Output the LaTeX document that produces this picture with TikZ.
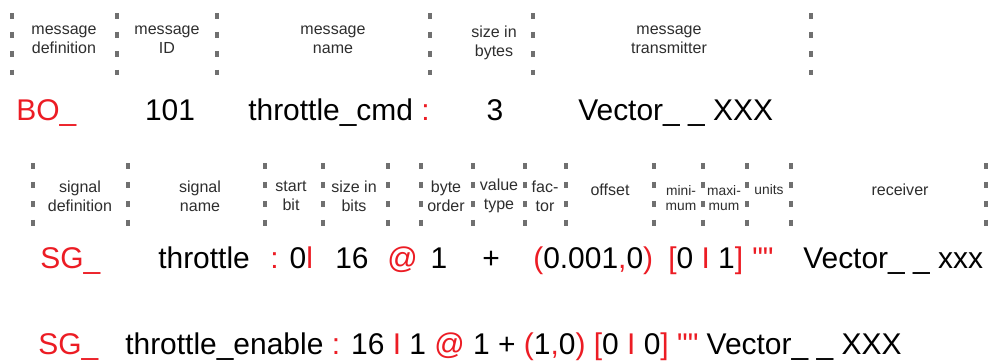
\documentclass[tikz,border=0pt]{standalone}
\usepackage{fontspec}
\setmainfont{Liberation Sans}
\usetikzlibrary{positioning}
\definecolor{cred}{HTML}{EC1C24}
\definecolor{cgrey}{HTML}{707070}
\definecolor{ctext}{HTML}{2E2E2E}
\tikzset{
  head/.style={font=\fontsize{11.4}{13.5}\selectfont, text=ctext, align=center, inner sep=0pt},
  smallhead/.style={font=\fontsize{9.8}{10.9}\selectfont, text=ctext, align=center, inner sep=0pt},
  value/.style={font=\fontsize{21.3}{25}\selectfont, inner sep=0pt, anchor=base west},
  bar/.style={draw=cgrey, line width=2.35pt, dash pattern=on 4.3pt off 9.2pt},
}
\newcommand{\rtxt}[1]{\textcolor{cred}{#1}}
% straight double quotes: set the glyph itself, so the TeX mapping leaves it alone
\newcommand{\sq}{\XeTeXglyph\XeTeXcharglyph"22\relax}
\newcommand{\dq}{\sq\sq}

\begin{document}
\begin{tikzpicture}[x=0.025cm, y=-0.025cm]
  \useasboundingbox[fill=white] (0,0) rectangle (988,363);
  % message line: column rules and headings
  \foreach \x in {12,117,217,430,533,811}
    \draw[bar] (\x,13) -- (\x,75);
  \node[head] (mdef) at (64,40) {message\\definition};
  \node[head] (mid) at (167,40) {message\\ID};
  \node[head] (mname) at (333,40) {message\\name};
  \node[head] (msize) at (494,43) {size in\\bytes};
  \node[head] (mtx) at (669,40) {message\\transmitter};
  % message line: values
  \node[value, text=cred] (bo) at (16,120) {BO\_};
  \node[value, anchor=base] (id) at (170,120) {101};
  \node[value] (name) at (248,120) {throttle\_cmd \rtxt{:}};
  \node[value, anchor=base] (size) at (495,120) {3};
  \node[value] (tx) at (578,120) {Vector\_ \_ XXX};
  % signal lines: column rules and headings
  \foreach \x in {33,128,265,323,388,421,473,525,566,654,703,747,791,986}
    \draw[bar] (\x,163) -- (\x,228);
  \node[head] (sdef) at (80,196) {signal\\definition};
  \node[head] (sname) at (200,196) {signal\\name};
  \node[head] (sstart) at (291,196) {start\\bit};
  \node[head] (slen) at (354,196) {size in\\bits};
  \node[head] (sord) at (446,196) {byte\\order};
  \node[head] (styp) at (499,196) {value\\type};
  \node[head] (sfac) at (545,196) {fac-\\tor};
  \node[head] (soff) at (610,190) {offset};
  \node[smallhead] (smin) at (681,198) {mini-\\mum};
  \node[smallhead] (smax) at (724,198) {maxi-\\mum};
  \node[smallhead] (sunit) at (769,190) {units};
  \node[head] (srx) at (900,190) {receiver};
  % throttle
  \node[value, text=cred] (sg1) at (40,268) {SG\_};
  \node[value] (sig1) at (158,268) {throttle};
  \node[value] (start1) at (270,268) {\rtxt{:} 0\rtxt{l}};
  \node[value] (len1) at (335,268) {16};
  \node[value, text=cred] (at1) at (387,268) {@};
  \node[value, anchor=base] (ord1) at (439,268) {1};
  \node[value, anchor=base] (typ1) at (491,268) {+};
  \node[value] (fo1) at (533,268) {\rtxt{(}0.001\rtxt{,}0\rtxt{)}};
  \node[value] (rng1) at (668,268) {\rtxt{[}0 \rtxt{I} 1\rtxt{]}};
  \node[value, text=cred] (unit1) at (752,268) {\dq};
  \node[value] (rx1) at (803,268) {Vector\_ \_ xxx};
  % throttle_enable
  \node[value, text=cred] (sg2) at (38,354) {SG\_};
  \node[value] (sig2) at (125,354) {throttle\_enable \rtxt{:} 16 \rtxt{I} 1 \rtxt{@} 1 + \rtxt{(}1\rtxt{,}0\rtxt{)} \rtxt{[}0 \rtxt{I} 0\rtxt{]} \rtxt{\dq} Vector\_ \_ XXX};
\end{tikzpicture}
\end{document}
